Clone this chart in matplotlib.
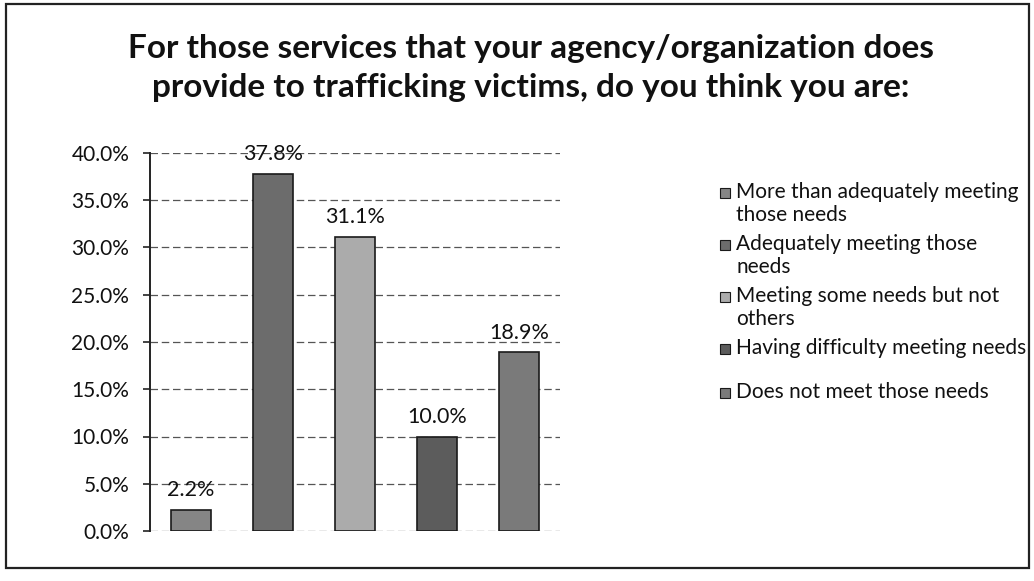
import matplotlib.pyplot as plt
from matplotlib.patches import Rectangle
from matplotlib.ticker import FuncFormatter

categories = [
    "More than adequately meeting\nthose needs",
    "Adequately meeting those\nneeds",
    "Meeting some needs but not\nothers",
    "Having difficulty meeting needs",
    "Does not meet those needs",
]
values = [2.2, 37.8, 31.1, 10.0, 18.9]
bar_colors = ["#858585", "#6c6c6c", "#ababab", "#5c5c5c", "#7a7a7a"]
title = ("For those services that your agency/organization does\n"
         "provide to trafficking victims, do you think you are:")

plt.rcParams["font.family"] = ["Lato", "DejaVu Sans"]

W, H = 1034, 581
fig = plt.figure(figsize=(W / 100, H / 100), dpi=100)
fig.patch.set_facecolor("white")


def fx(px):
    return px / W


def fy(py):
    return 1 - py / H


# outer chart border
fig.patches.append(Rectangle((fx(6), fy(568)), fx(1029) - fx(6), fy(4) - fy(568),
                             transform=fig.transFigure, fill=False,
                             edgecolor="#222222", linewidth=1.6))

ax = fig.add_axes([fx(150), fy(531), fx(560) - fx(150), fy(153) - fy(531)])
x = range(len(values))
bars = ax.bar(x, values, width=0.49, color=bar_colors, edgecolor="#1a1a1a", linewidth=1.2)
ax.bar_label(bars, labels=[f"{v:.1f}%" for v in values], padding=7, fontsize=15.5,
             color="#111111")

ax.set_xlim(-0.5, len(values) - 0.5)
ax.set_ylim(0, 40)
ax.set_yticks(range(0, 41, 5))
ax.yaxis.set_major_formatter(FuncFormatter(lambda v, p: f"{v:.1f}%"))
ax.tick_params(axis="y", labelsize=15, length=5, width=1.2, color="#222222", pad=10,
               labelcolor="#111111")
ax.set_xticks([])
ax.yaxis.grid(True, color="#555555", linestyle=(0, (6, 3)), linewidth=0.9)
ax.set_axisbelow(True)
for side in ["top", "right", "bottom"]:
    ax.spines[side].set_visible(False)
ax.spines["left"].set_linewidth(1.4)
ax.spines["left"].set_color("#222222")

fig.text(fx(531), fy(68), title, ha="center", va="center", fontsize=24,
         fontweight="bold", linespacing=1.45, color="#111111")

# legend
legend_y = [193, 245, 297, 349, 393]
for label, color, ly in zip(categories, bar_colors, legend_y):
    fig.patches.append(Rectangle((fx(720), fy(ly + 5)), fx(10), fy(ly - 5) - fy(ly + 5),
                                 transform=fig.transFigure, facecolor=color,
                                 edgecolor="#1a1a1a", linewidth=0.8))
    fig.text(fx(736), fy(ly - 11), label, ha="left", va="top", fontsize=15,
             linespacing=1.2, color="#111111")

fig.savefig("out.png", dpi=100)
